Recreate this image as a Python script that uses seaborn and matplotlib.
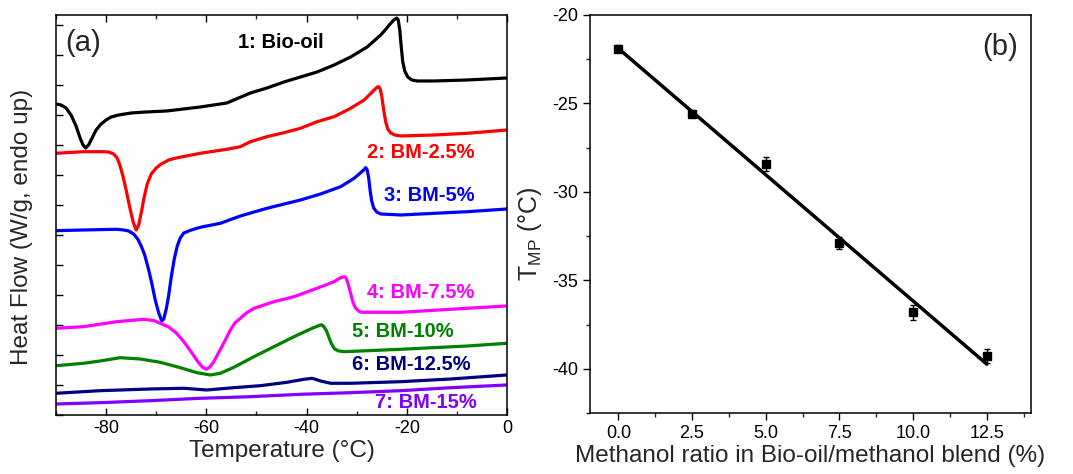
import numpy as np
import pandas as pd
import matplotlib
matplotlib.use("Agg")
import matplotlib.pyplot as plt
from matplotlib.ticker import MultipleLocator, FormatStrFormatter
import seaborn as sns

# ---------------- DSC thermograms (panel a) ----------------
# Heat flow in arbitrary stacked units, endo up
t_bio = [-90, -89, -88, -87, -86, -85.2, -84.6, -84.1, -83.5, -82.8, -82, -81, -80, -79, -77.5, -75,
         -72, -67.9, -61.2, -57.2, -55.9, -54.5, -51.2, -47.9, -44.5, -41.2, -37.9, -34.5, -31.2, -27.9,
         -25.2, -24.3, -23.5, -22.6, -22.0, -21.7, -21.4, -21.1, -20.8, -20.4, -19.8, -19.0, -17.9,
         -14.5, -7.9, 0]
hf_bio = [3.11, 3.10, 3.07, 3.00, 2.89, 2.77, 2.70, 2.67, 2.70, 2.77, 2.85, 2.91, 2.95, 2.98, 3.00, 3.02,
          3.03, 3.04, 3.08, 3.11, 3.12, 3.15, 3.22, 3.27, 3.33, 3.38, 3.43, 3.50, 3.58, 3.68,
          3.80, 3.85, 3.90, 3.95, 3.97, 3.95, 3.85, 3.68, 3.53, 3.44, 3.38, 3.35, 3.34,
          3.34, 3.35, 3.37]

t_bm25 = [-90, -84.5, -80.5, -79.5, -78.5, -77.8, -77.2, -76.6, -76.0, -75.3, -74.6, -74.0, -73.5, -73.0,
          -72.4, -71.8, -71.0, -70.0, -69.0, -67.5, -66.0, -61.2, -55.9, -53.2, -51.2, -47.9, -44.5, -41.2,
          -37.9, -34.5, -31.2, -28.5, -27.5, -26.5, -25.9, -25.6, -25.3, -25.0, -24.6, -24.2, -23.8, -23.2,
          -22.4, -21.2, -14.5, -7.9, 0]
hf_bm25 = [2.617, 2.633, 2.633, 2.63, 2.61, 2.57, 2.49, 2.38, 2.25, 2.08, 1.93, 1.85, 1.90, 2.02,
           2.18, 2.31, 2.41, 2.47, 2.51, 2.55, 2.57, 2.617, 2.657, 2.683, 2.733, 2.783, 2.823, 2.867,
           2.933, 2.983, 3.067, 3.15, 3.20, 3.25, 3.28, 3.283, 3.26, 3.19, 3.05, 2.93, 2.86, 2.82,
           2.80, 2.79, 2.80, 2.817, 2.85]

t_bm5 = [-90, -84.5, -77.9, -76.5, -75.5, -74.5, -73.7, -73.0, -72.3, -71.6, -70.9, -70.2, -69.5, -68.9,
         -68.5, -68.0, -67.5, -67.0, -66.4, -65.8, -65.2, -64.5, -63.0, -61.2, -57.2, -53.2, -47.9, -41.2,
         -37.2, -33.2, -30.5, -29.5, -28.6, -28.2, -27.9, -27.6, -27.3, -27.0, -26.6, -26.0, -25.2, -21.2,
         -7.9, 0]
hf_bm5 = [1.843, 1.85, 1.857, 1.85, 1.84, 1.81, 1.76, 1.69, 1.60, 1.47, 1.32, 1.15, 1.02, 0.94,
          0.96, 1.06, 1.20, 1.38, 1.56, 1.69, 1.77, 1.82, 1.85, 1.877, 1.917, 1.99, 2.067, 2.15,
          2.21, 2.283, 2.367, 2.41, 2.45, 2.473, 2.45, 2.37, 2.24, 2.14, 2.07, 2.03, 2.01, 2.0,
          2.033, 2.06]

t_bm75 = [-90, -84.5, -77.9, -72.5, -70.5, -69.2, -67.5, -66.0, -64.5, -63.0, -61.8, -60.8, -60.0, -59.3,
          -58.5, -57.7, -56.9, -56.0, -55.2, -54.3, -53.2, -52.0, -50.5, -46.5, -42.5, -37.9, -34.5, -33.3,
          -32.5, -32.1, -31.7, -31.2, -30.7, -30.2, -29.5, -28.9, -21.2, -7.9, 0]
hf_bm75 = [0.867, 0.883, 0.933, 0.957, 0.945, 0.917, 0.88, 0.82, 0.733, 0.63, 0.54, 0.48, 0.457, 0.48,
           0.533, 0.61, 0.683, 0.77, 0.85, 0.92, 0.967, 1.02, 1.067, 1.133, 1.183, 1.267, 1.333, 1.37,
           1.383, 1.37, 1.31, 1.217, 1.12, 1.067, 1.035, 1.027, 1.027, 1.067, 1.09]

t_bm10 = [-90, -84.5, -81.2, -77.2, -73.2, -69.2, -65.2, -61.9, -59.2, -57.2, -54.5, -50.5, -46.5, -42.5,
          -39.2, -38.0, -37.2, -36.9, -36.5, -36.0, -35.5, -35.0, -34.4, -33.6, -32.5, -21.2, -7.9, 0]
hf_bm10 = [0.493, 0.517, 0.54, 0.573, 0.56, 0.527, 0.473, 0.423, 0.40, 0.417, 0.477, 0.583, 0.683, 0.783,
           0.86, 0.885, 0.90, 0.90, 0.88, 0.84, 0.77, 0.71, 0.66, 0.64, 0.633, 0.657, 0.69, 0.717]

t_bm125 = [-90, -81.2, -71.2, -64.5, -59.9, -54.5, -49.2, -43.9, -40.5, -38.9, -37.2, -35.2, -31.2, -21.2,
           -11.2, 0]
hf_bm125 = [0.217, 0.243, 0.26, 0.267, 0.25, 0.273, 0.293, 0.327, 0.357, 0.367, 0.34, 0.317, 0.317, 0.333,
            0.36, 0.40]

t_bm15 = [-90, -81.2, -71.2, -61.2, -51.2, -41.2, -31.2, -21.2, -11.2, 0]
hf_bm15 = [0.11, 0.123, 0.143, 0.167, 0.183, 0.207, 0.223, 0.243, 0.273, 0.30]

curve_labels = ["1: Bio-oil", "2: BM-2.5%", "3: BM-5%", "4: BM-7.5%", "5: BM-10%", "6: BM-12.5%", "7: BM-15%"]
curve_colors = ["#000000", "#FF0000", "#0000FF", "#FF00FF", "#008000", "#000080", "#8000FF"]
label_x = [-53.6, -28.0, -24.6, -28.0, -31.0, -31.0, -26.4]
label_y = [3.72, 2.62, 2.19, 1.22, 0.83, 0.50, 0.12]

# ---------------- Melting point vs methanol ratio (panel b) ----------------
methanol_ratio = [0.0, 2.5, 5.0, 7.5, 10.0, 12.5]
t_mp = [-21.92, -25.59, -28.41, -32.90, -36.80, -39.28]
t_mp_err = [0.20, 0.20, 0.40, 0.33, 0.42, 0.38]

# ---------------- styling ----------------
sns.set_theme(style="ticks")
plt.rcParams["font.family"] = ["Liberation Sans", "DejaVu Sans"]
plt.rcParams["mathtext.fontset"] = "custom"
plt.rcParams["mathtext.rm"] = "Liberation Sans"
plt.rcParams["mathtext.it"] = "Liberation Sans"
plt.rcParams["axes.linewidth"] = 1.1
plt.rcParams["axes.edgecolor"] = "black"
plt.rcParams["axes.unicode_minus"] = False

fig = plt.figure(figsize=(10.73, 4.74), dpi=100)
ax1 = fig.add_axes([0.0522, 0.1245, 0.4203, 0.8439])
ax2 = fig.add_axes([0.5499, 0.1287, 0.4110, 0.8397])

series = [(t_bio, hf_bio), (t_bm25, hf_bm25), (t_bm5, hf_bm5), (t_bm75, hf_bm75),
          (t_bm10, hf_bm10), (t_bm125, hf_bm125), (t_bm15, hf_bm15)]
for (tx, hy), col in zip(series, curve_colors):
    df = pd.DataFrame({"T": tx, "HF": hy})
    line = sns.lineplot(data=df, x="T", y="HF", color=col, lw=2.3, ax=ax1, sort=False)
for ln in ax1.lines:
    ln.set_solid_joinstyle("round")
    ln.set_solid_capstyle("round")

for txt, col, lx, ly in zip(curve_labels, curve_colors, label_x, label_y):
    ax1.text(lx, ly, txt, color=col, fontsize=14.5, fontweight="bold", ha="left", va="center")

ax1.set_xlim(-90, 0)
ax1.set_ylim(0, 4.0)
ax1.xaxis.set_major_locator(MultipleLocator(20))
ax1.xaxis.set_minor_locator(MultipleLocator(10))
ax1.yaxis.set_major_locator(MultipleLocator(0.3))
ax1.set_yticklabels([])
ax1.tick_params(axis="both", which="major", direction="in", length=5, width=1.0, labelsize=13,
                top=True, right=True, colors="black")
ax1.tick_params(axis="both", which="minor", direction="in", length=3, width=1.0, top=True, right=False)
ax1.tick_params(axis="y", which="major", right=False)
ax1.set_xlabel("Temperature (\u00b0C)", fontsize=17.5, labelpad=2)
ax1.set_ylabel("Heat Flow (W/g, endo up)", fontsize=17.5)
ax1.yaxis.set_label_coords(-0.05, 0.47)
ax1.text(0.02, 0.93, "(a)", transform=ax1.transAxes, fontsize=21, ha="left", va="center")

# panel b: error-barred points and a least-squares line
ax2.errorbar(methanol_ratio, t_mp, yerr=t_mp_err, fmt="s", color="black", ms=6,
             elinewidth=1.0, capsize=2.5, capthick=1.0, zorder=3)
sns.regplot(x=methanol_ratio, y=t_mp, ci=None, scatter=False, ax=ax2,
            line_kws={"color": "black", "lw": 2.5})

ax2.set_xlim(-0.96, 14.0)
ax2.set_ylim(-42.5, -20)
ax2.xaxis.set_major_locator(MultipleLocator(2.5))
ax2.xaxis.set_minor_locator(MultipleLocator(1.25))
ax2.xaxis.set_major_formatter(FormatStrFormatter("%.1f"))
ax2.yaxis.set_major_locator(MultipleLocator(5))
ax2.yaxis.set_minor_locator(MultipleLocator(2.5))
ax2.tick_params(axis="both", which="major", direction="out", length=5, width=1.0, labelsize=13,
                colors="black")
ax2.tick_params(axis="both", which="minor", direction="out", length=3, width=1.0)
ax2.set_xlabel("Methanol ratio in Bio-oil/methanol blend (%)", fontsize=17.5, labelpad=2)
ax2.set_ylabel("T$_{\\mathrm{MP}}$ (\u00b0C)", fontsize=18, labelpad=4)
ax2.yaxis.set_label_coords(-0.105, 0.45)
ax2.text(0.93, 0.92, "(b)", transform=ax2.transAxes, fontsize=21, ha="center", va="center")

for ax in (ax1, ax2):
    for s in ax.spines.values():
        s.set_visible(True)
        s.set_color("black")

fig.savefig("out.png", dpi=100)
